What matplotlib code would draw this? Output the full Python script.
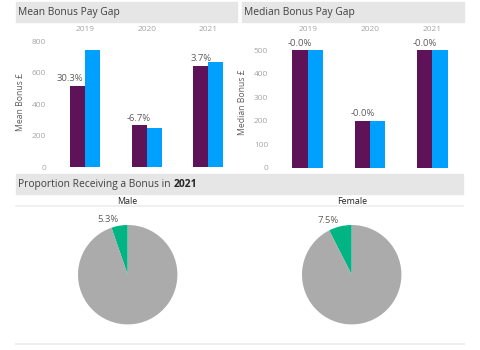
import matplotlib.pyplot as plt
from matplotlib.patches import Rectangle
import numpy as np

plt.rcParams["font.family"] = ["Open Sans", "DejaVu Sans"]

W, H = 480, 350

years = ["2019", "2020", "2021"]
mean_female = [519, 266, 642]
mean_male = [745, 249, 667]
mean_gap = ["30.3%", "-6.7%", "3.7%"]
median_female = [500, 200, 500]
median_male = [500, 200, 500]
median_gap = ["-0.0%", "-0.0%", "-0.0%"]
pie_groups = ["Male", "Female"]
pie_bonus = [5.3, 7.5]
pie_labels = ["5.3%", "7.5%"]

PURPLE = "#5E1358"
BLUE = "#00A0FF"
GREEN = "#01B484"
GREY = "#ABABAB"
BANNER = "#E6E6E6"
TEXT = "#404040"
TICK = "#A6A6A6"
LABEL = "#605E5C"


def px_axes(fig, x0, y0, x1, y1):
    """Add axes given pixel box (top-left origin)."""
    return fig.add_axes([x0 / W, 1 - y1 / H, (x1 - x0) / W, (y1 - y0) / H])


def banner(fig, x0, y0, x1, y1):
    fig.patches.append(Rectangle((x0 / W, 1 - y1 / H), (x1 - x0) / W, (y1 - y0) / H,
                                 transform=fig.transFigure, color=BANNER, zorder=0))


def hline(fig, x0, x1, y, lw=1.2):
    fig.add_artist(plt.Line2D([x0 / W, x1 / W], [1 - y / H, 1 - y / H],
                              transform=fig.transFigure, color="#EEEEEE", lw=lw))


def bar_panel(ax, female, male, gaps, ymax, yticks, ylabel):
    x = np.arange(len(years))
    w = 0.245
    ax.bar(x - w / 2, female, w, color=PURPLE)
    ax.bar(x + w / 2, male, w, color=BLUE)
    for i in range(len(x)):
        if male[i] > female[i] * 1.15:
            ax.annotate(gaps[i], (x[i], female[i]), xytext=(-1, 2),
                        textcoords="offset points", ha="right", va="bottom",
                        fontsize=6.8, color=LABEL)
        else:
            ax.annotate(gaps[i], (x[i] - w / 2, female[i]), xytext=(0, 2),
                        textcoords="offset points", ha="center", va="bottom",
                        fontsize=6.8, color=LABEL)
    ax.set_xlim(-0.5, 2.5)
    ax.set_ylim(0, ymax)
    ax.set_xticks(x)
    ax.set_xticklabels(years)
    ax.xaxis.tick_top()
    ax.set_yticks(yticks)
    ax.tick_params(length=0, labelsize=6, labelcolor=TICK)
    ax.tick_params(axis="x", pad=2)
    ax.tick_params(axis="y", pad=6)
    ax.set_ylabel(ylabel, fontsize=6.2, color=LABEL, labelpad=5)
    for s in ax.spines.values():
        s.set_visible(False)


fig = plt.figure(figsize=(W / 100, H / 100), dpi=100)

# bar chart banners
banner(fig, 16, 2, 237, 22)
banner(fig, 242, 2, 464, 22)
fig.text(18 / W, 1 - 12 / H, "Mean Bonus Pay Gap", fontsize=7.4, color=TEXT, va="center")
fig.text(244 / W, 1 - 12 / H, "Median Bonus Pay Gap", fontsize=7.4, color=TEXT, va="center")

ax1 = px_axes(fig, 54.25, 36, 239, 167.2)
bar_panel(ax1, mean_female, mean_male, mean_gap, 834, range(0, 801, 200), "Mean Bonus £")

ax2 = px_axes(fig, 276.5, 36, 463.5, 167.5)
bar_panel(ax2, median_female, median_male, median_gap, 561, range(0, 501, 100), "Median Bonus £")

# pie section
banner(fig, 16, 174, 463, 194)
fig.text(18 / W, 1 - 184.5 / H, "Proportion Receiving a Bonus in ", fontsize=7.4,
         color=TEXT, va="center")
t = fig.text(0, 0, "")
fig.canvas.draw()
r = fig.texts[-2].get_window_extent()
t.set_position((r.x1 / W, 1 - 184.5 / H))
t.set_text("2021")
t.set_fontsize(7.4)
t.set_fontweight("bold")
t.set_color("#252423")
t.set_va("center")
hline(fig, 16, 463, 205.5)
hline(fig, 16, 464, 343.7, lw=1.5)

centers = [127.7, 351.7]
rad = 49.7
cy = 274.7
for i, g in enumerate(pie_groups):
    fig.text(centers[i] / W, 1 - 201 / H, g, fontsize=6.4, color="#252423",
             ha="center", va="center")
    ax = px_axes(fig, centers[i] - rad, cy - rad, centers[i] + rad, cy + rad)
    ax.pie([pie_bonus[i], 100 - pie_bonus[i]], colors=[GREEN, GREY],
           labels=[pie_labels[i], ""], startangle=90, counterclock=True,
           labeldistance=1.12, radius=1,
           textprops=dict(fontsize=6.8, color=LABEL))
    ax.set_xlim(-1, 1)
    ax.set_ylim(-1, 1)
    ax.set_aspect("equal")

fig.savefig("out.png", dpi=100)
